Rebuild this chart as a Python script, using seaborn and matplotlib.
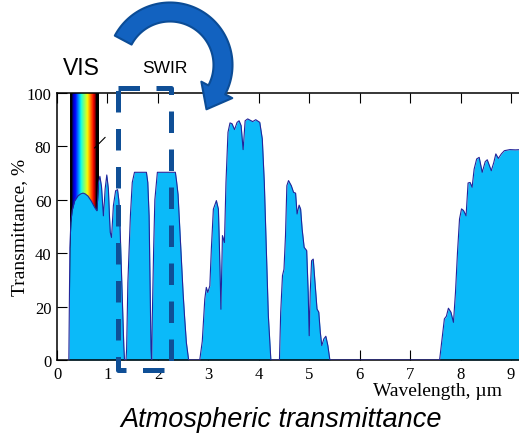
import numpy as np
import matplotlib
matplotlib.use("Agg")
import matplotlib.pyplot as plt
from matplotlib.patches import Polygon
import seaborn as sns

# transmittance curve (um, %)
wavelength_um = [
    0.235, 0.245, 0.255, 0.275, 0.30, 0.35, 0.418, 0.47, 0.516, 0.56, 0.614, 0.68, 0.745, 0.79,
    0.805, 0.823, 0.85, 0.882, 0.905, 0.92, 0.935, 0.954, 0.987, 1.019, 1.04, 1.056, 1.081,
    1.10, 1.118, 1.162, 1.20, 1.225, 1.243, 1.274, 1.305, 1.325, 1.338,
    1.368, 1.38, 1.393, 1.405, 1.43, 1.455, 1.492, 1.536, 1.773, 1.80, 1.826, 1.845, 1.864, 1.875,
    1.879, 1.89, 1.916, 1.94, 1.99, 2.347, 2.37, 2.40, 2.43, 2.465, 2.50, 2.53, 2.565, 2.61,
    2.83, 2.88, 2.93, 2.96, 2.99, 3.03, 3.06, 3.10, 3.16, 3.20, 3.23, 3.25, 3.28, 3.32, 3.35,
    3.39, 3.43, 3.47, 3.52, 3.57, 3.61, 3.65, 3.69, 3.73, 3.78, 3.88, 3.94, 4.02, 4.07, 4.11,
    4.15, 4.19, 4.24,
    4.41, 4.435, 4.47, 4.50, 4.53, 4.557, 4.59, 4.645, 4.69, 4.73, 4.76, 4.80, 4.83, 4.86, 4.90,
    4.95, 4.98, 5.00, 5.02, 5.047, 5.08, 5.11, 5.155, 5.19, 5.22, 5.25, 5.29, 5.33, 5.37, 5.41,
    7.585, 7.64, 7.68, 7.72, 7.76, 7.81, 7.86, 7.90, 7.94, 7.98, 8.02, 8.06, 8.11, 8.15, 8.19,
    8.23, 8.27, 8.32, 8.37, 8.43, 8.49, 8.53, 8.61, 8.66, 8.70, 8.75, 8.81, 8.87, 8.98, 9.09, 9.20,
]
transmittance_pct = [
    0, 20, 42, 51.6, 56, 59.6, 61.5, 62.2, 62.5, 62.2, 61.4, 59.5, 57.2, 55.9,
    60, 66.5, 68.8, 65, 58, 54, 58, 64, 69.3, 64, 54, 47.8, 45.9,
    52, 57.8, 63.4, 63.8, 60, 54, 35.3, 16.6, 5, 0,
    0, 4, 16.6, 29, 41.6, 54, 66.5, 70.3, 70.3, 66.5, 54, 29, 4, 0,
    0, 16.6, 41.6, 60, 70.3, 70.3, 67, 62, 51, 38, 25, 16, 6.5, 0,
    0, 7, 22.8, 27.2, 25.3, 27.8, 41.6, 56.5, 59.7, 56.5, 35.3, 19, 46.6, 44, 66.5,
    85.3, 88.8, 88.5, 86.3, 89, 89.6, 87.8, 78.8, 89.6, 90.3, 89.3, 90, 89, 82.8, 66.5,
    41.6, 16.6, 0,
    0, 17.9, 31.6, 34, 46.6, 65.3, 67.2, 65.3, 62.8, 62.5, 54.7, 58, 56.5, 49, 42.2,
    41, 25.3, 9.1, 25.3, 37.2, 37.8, 30.3, 19.1, 17.9, 10.4, 5.4, 7.9, 8.9, 5.4, 0,
    0, 9.1, 15.4, 16.4, 19.4, 17.9, 14.1, 25.3, 40.3, 52.8, 56.6, 56, 54, 66.3, 66.5,
    64.7, 71.5, 75.3, 75.9, 70.3, 74.3, 75, 70.9, 74, 77.2, 75.5, 77.2, 78.4, 78.8, 78.7, 78.8,
]

x_ticks = [0, 1, 2, 3, 4, 5, 6, 7, 8, 9]
y_ticks = [0, 20, 40, 60, 80, 100]
vis_band = (0.255, 0.824)      # spectrum strip with black edges
vis_colors = (0.30, 0.76)      # coloured part of the strip
swir_box = (1.215, 2.27, -3.9, 102.0)

W, H = 519, 435
sns.set_style("ticks")
plt.rcParams['font.family'] = ['Liberation Serif', 'DejaVu Serif']
plt.rcParams['axes.edgecolor'] = 'black'
plt.rcParams['xtick.color'] = 'black'
plt.rcParams['ytick.color'] = 'black'
plt.rcParams['text.color'] = 'black'

fig = plt.figure(figsize=(W / 100, H / 100), dpi=100)
ax = fig.add_axes([57 / W, 1 - 361 / H, (W - 57) / W, (361 - 94) / H])

# spectrum strip (sits behind the fill, so only shows above the curve)
u = np.linspace(vis_band[0], vis_band[1], 300)
rgb = plt.cm.jet((u - vis_colors[0]) / (vis_colors[1] - vis_colors[0]))[:, :3]
rgb[(u < vis_colors[0]) | (u > vis_colors[1])] = 0
ax.imshow(rgb[None, :, :], extent=[vis_band[0], vis_band[1], 0, 100], aspect='auto',
          zorder=1, interpolation='bilinear')
ax.plot([0.745, 0.955], [79.4, 83.4], color='black', lw=0.8, zorder=1.5)

ax.fill_between(wavelength_um, transmittance_pct, 0, color="#0bbaf9", lw=0, zorder=2)
sns.lineplot(x=wavelength_um, y=transmittance_pct, ax=ax, color="#22259a", lw=0.8,
             estimator=None, sort=False, zorder=3)

# dashed SWIR box
x0, x1, y0, y1 = swir_box
ax.plot([x0, x1, x1, x0, x0], [y1, y1, y0, y0, y1], color="#0f4f96", lw=3.6,
        linestyle=(0, (4.3, 3.3)), clip_on=False, zorder=5)

ax.set_xlim(0, (W - 57) / 50.44)
ax.set_ylim(0, 100)
ax.set_xticks(x_ticks)
ax.set_yticks(y_ticks)
ax.tick_params(direction='in', length=7, width=0.8, top=True, right=False,
               labelsize=12, pad=4, labelcolor='black')
ax.spines['right'].set_visible(False)
for s in ['left', 'top', 'bottom']:
    ax.spines[s].set_linewidth(1.1)
ax.set_xlabel('')
ax.set_ylabel('')

fig.text(19.5 / W, 1 - 227.5 / H, 'Transmittance, %', rotation=90, ha='center',
         va='center', fontsize=14)
fig.text(502 / W, 1 - 396 / H, 'Wavelength, µm', ha='right', va='baseline', fontsize=14)

sans = ['Liberation Sans', 'DejaVu Sans']
fig.text(81 / W, 1 - 75 / H, 'VIS', ha='center', va='baseline', fontsize=16.5, family=sans)
fig.text(165 / W, 1 - 72.7 / H, 'SWIR', ha='center', va='baseline', fontsize=12.5, family=sans)
fig.text(281 / W, 1 - 427 / H, 'Atmospheric transmittance', ha='center', va='baseline',
         fontsize=19.5, style='italic', family=sans)

# curved arrow (pixel geometry, y down)
cx, cy, r, hw = 170, 66, 53, 9.5
phi = np.radians(np.linspace(152, -28, 90))
outer = np.c_[cx + (r + hw) * np.cos(phi), cy - (r + hw) * np.sin(phi)]
inner = np.c_[cx + (r - hw) * np.cos(phi), cy - (r - hw) * np.sin(phi)]
pe = phi[-1]
base = np.array([cx + r * np.cos(pe), cy - r * np.sin(pe)])
radial = np.array([np.cos(pe), -np.sin(pe)])
tang = np.array([np.sin(pe), np.cos(pe)])
head = np.array([base + 17.5 * radial, base + 22 * tang, base - 17.5 * radial])
pts = np.vstack([outer, head, inner[::-1]])
pts = np.c_[pts[:, 0] / W, 1 - pts[:, 1] / H]
fig.add_artist(Polygon(pts, closed=True, transform=fig.transFigure, fc="#1262c0",
                       ec="#0b4c96", lw=1.5, joinstyle='round', zorder=6))

fig.savefig("out.png", dpi=100)
